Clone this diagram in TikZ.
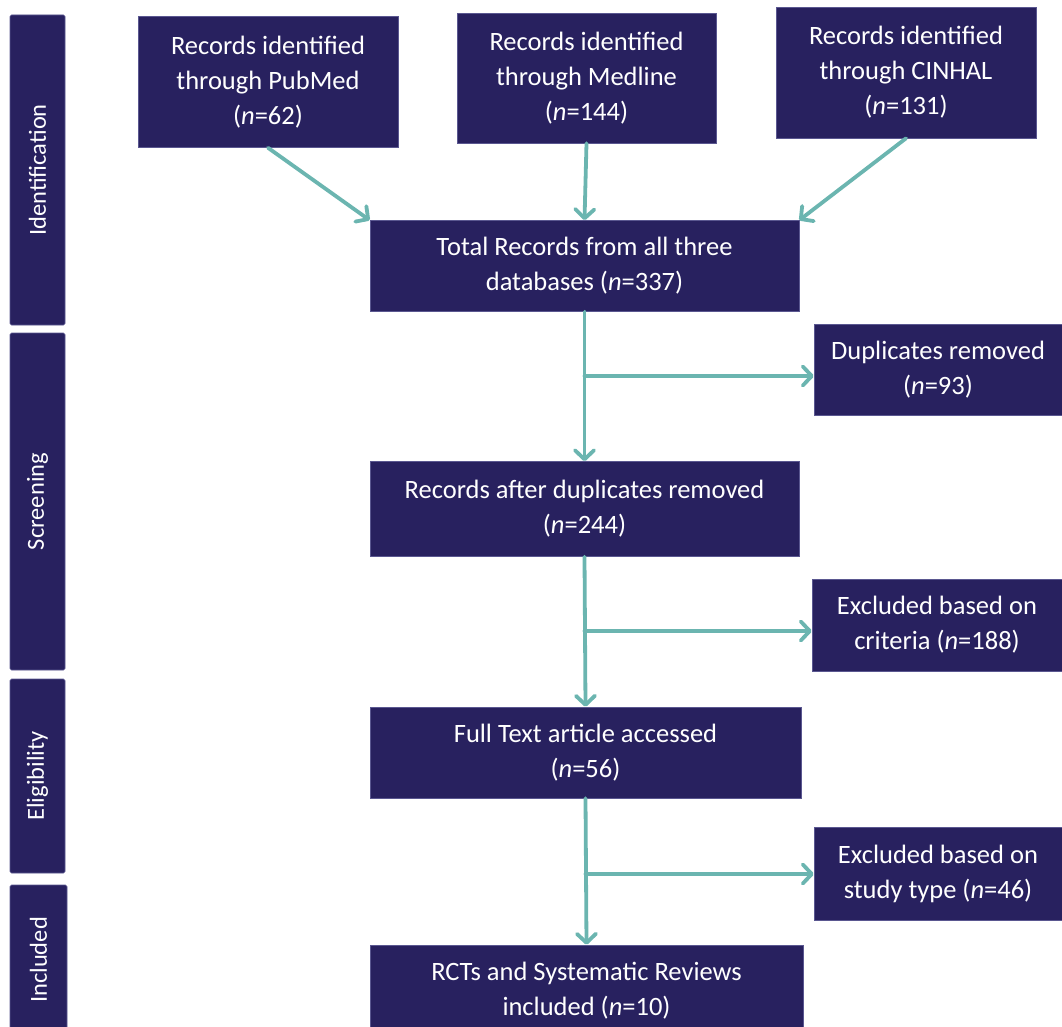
\documentclass[tikz,border=0pt]{standalone}
\usepackage{fontspec}
\setmainfont{Carlito}
\usetikzlibrary{arrows.meta,calc}
\definecolor{navy}{HTML}{28215F}
\definecolor{navyedge}{HTML}{5A5790}
\definecolor{arrowteal}{HTML}{6BB5B0}
\begin{document}
\begin{tikzpicture}[x=1pt,y=-1pt,
  box/.style={fill=navy,draw=navyedge,line width=0.6pt,text=white,align=center,inner sep=0pt,
    font=\fontsize{26.5}{35}\selectfont},
  phase/.style={fill=navy,draw=navyedge,line width=0.6pt,rounded corners=1.5pt,text=white,inner sep=0pt,
    rotate=90,font=\fontsize{24.5}{30}\selectfont},
  arr/.style={draw=arrowteal,line width=3.8pt,line cap=round,
    -{Straight Barb[length=9pt,width=19pt,line cap=round,line join=round]}}]
\useasboundingbox (0,0) rectangle (1062,1027);
% phase bars
\node[phase,minimum width=310pt,minimum height=55pt] (pid) at (37.5,170) {Identification};
\node[phase,minimum width=337pt,minimum height=55pt] (psc) at (37.5,501.5) {Screening};
\node[phase,minimum width=194pt,minimum height=55pt] (pel) at (37.5,776) {Eligibility};
\node[phase,minimum width=150pt,minimum height=57pt] (pin) at (38.5,960) {Included};
% boxes
\node[box,minimum width=260pt,minimum height=131pt] (pub) at (268,82) {Records identified\\through PubMed\\(\textit{n}=62)};
\node[box,minimum width=259pt,minimum height=130pt] (med) at (586.5,78) {Records identified\\through Medline\\(\textit{n}=144)};
\node[box,minimum width=260pt,minimum height=131pt] (cin) at (906,72.5) {Records identified\\through CINHAL\\(\textit{n}=131)};
\node[box,minimum width=429pt,minimum height=91pt] (tot) at (584.5,266) {Total Records from all three\\databases (\textit{n}=337)};
\node[box,minimum width=248pt,minimum height=91pt] (dup) at (938,370) {Duplicates removed\\(\textit{n}=93)};
\node[box,minimum width=429pt,minimum height=95pt] (aft) at (584.5,509) {Records after duplicates removed\\(\textit{n}=244)};
\node[box,minimum width=250pt,minimum height=92pt] (crit) at (937,625) {Excluded based on\\criteria (\textit{n}=188)};
\node[box,minimum width=431pt,minimum height=91pt] (full) at (585.5,752.5) {Full Text article accessed\\(\textit{n}=56)};
\node[box,minimum width=248pt,minimum height=93pt] (stud) at (938,874) {Excluded based on\\study type (\textit{n}=46)};
\node[box,minimum width=433pt,minimum height=92pt] (rct) at (586.5,991) {RCTs and Systematic Reviews\\included (\textit{n}=10)};
% connectors
\draw[arr] (pub.south) -- (tot.north west);
\draw[arr] (med.south) -- (tot.north);
\draw[arr] (cin.south) -- (tot.north east);
\draw[arr] (tot.south) -- (aft.north);
\draw[arr] ([yshift=-6pt]tot.south |- dup.west) -- ([yshift=-6pt]dup.west);
\draw[arr] (aft.south) -- (full.north);
\draw[arr] ([yshift=-6pt]aft.south |- crit.west) -- ([yshift=-6pt]crit.west);
\draw[arr] (full.south) -- (rct.north);
\draw[arr] (full.south |- stud.west) -- (stud.west);
\end{tikzpicture}
\end{document}
